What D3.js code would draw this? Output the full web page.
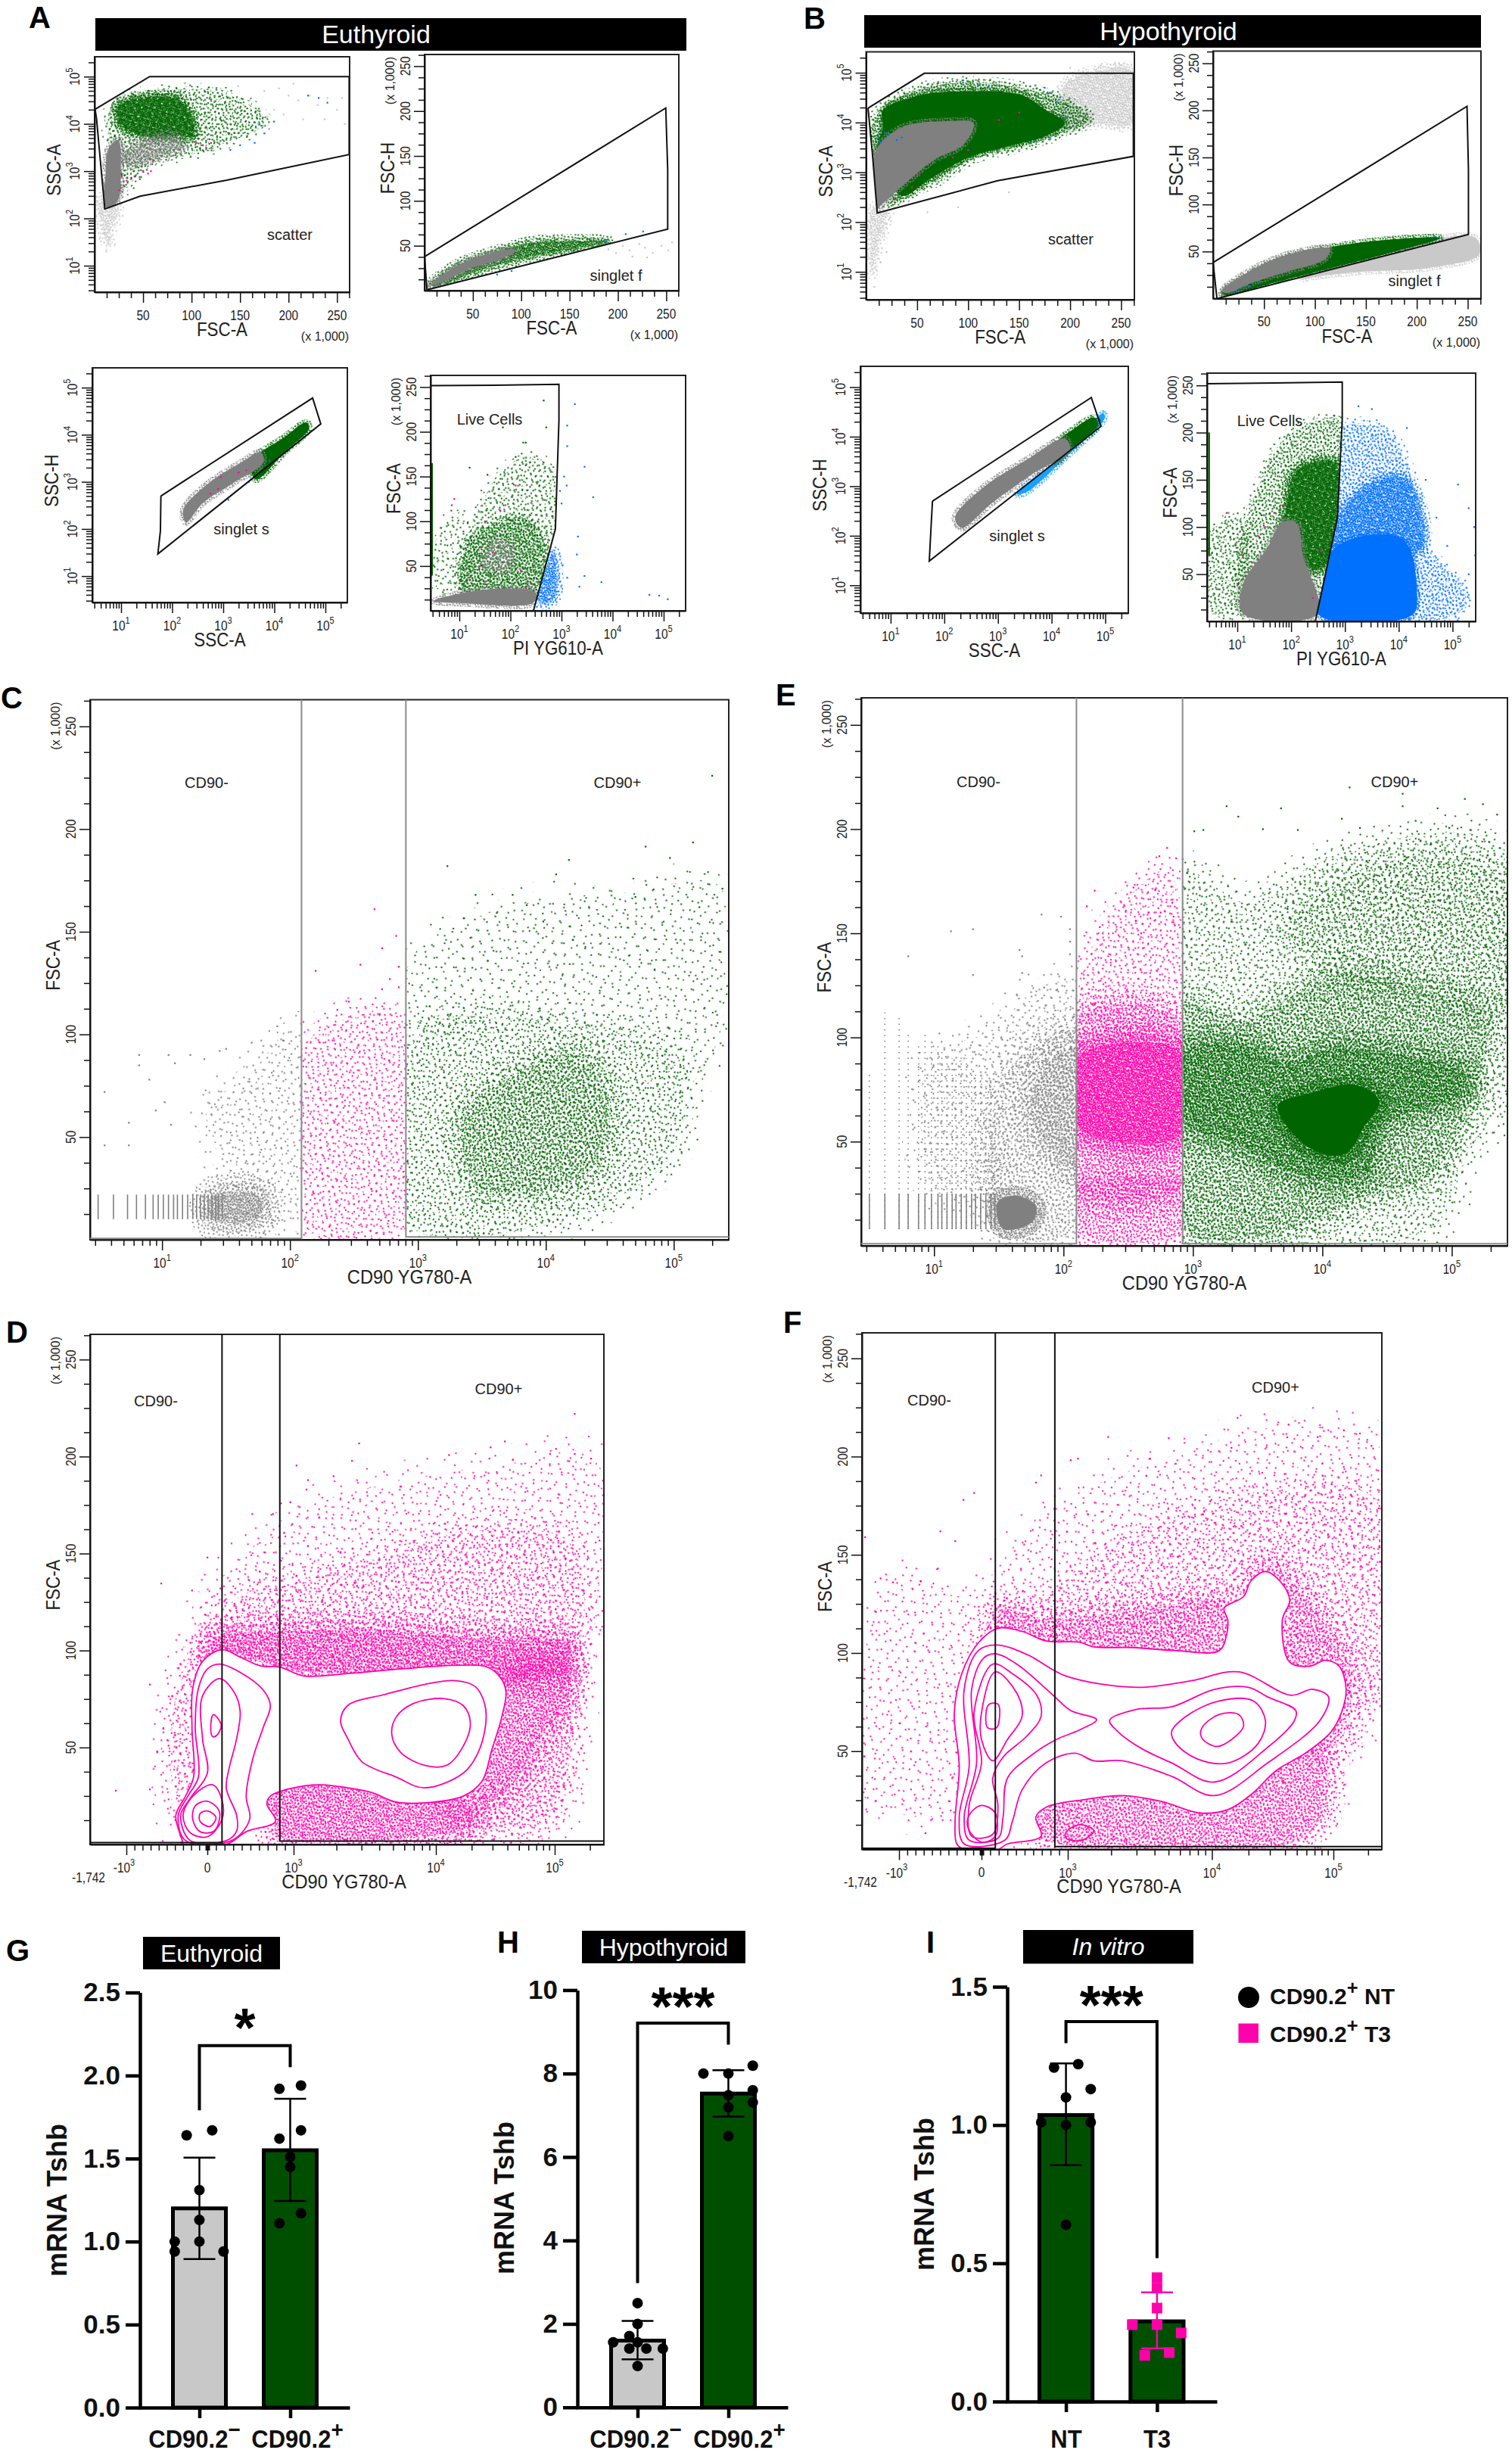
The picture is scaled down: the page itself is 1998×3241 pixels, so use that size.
<!DOCTYPE html>
<html>
<head>
<meta charset="utf-8">
<script src="https://cdn.jsdelivr.net/npm/d3@7"></script>
<style>
  body { margin: 0; background: #fff; }
  text { font-family: "Liberation Sans", Arial, sans-serif; }
</style>
</head>
<body>
<script>
// ---- flow panels: log axes hold log10 values, biexponential axes hold display decades
// (-1 = -10^3, 0 = 0, 1 = 10^3, 2 = 10^4, 3 = 10^5), linear axes hold thousands

// A scatter
const a1Gate = [[0.5,4.31],[56.8,5],[262.5,5],[262.5,3.35],[136.5,2.81],[46.8,2.47],[10.5,2.2],[6,3.21],[2,4.11],[0.5,4.31]];
const a1Cloud = [[14.4,4.2],[26.9,4.52],[71.7,4.7],[121.5,4.7],[161.4,4.38],[176.3,4.02],[141.4,3.66],[106.6,3.39],[61.8,3.21],[41.8,2.85],[26.9,2.58],[21.9,3.03]];
const a1Core = [[24.4,4.38],[51.8,4.56],[86.7,4.52],[99.1,4.2],[101.6,3.75],[81.7,3.75],[51.8,3.75],[26.9,3.98]];
const a1GreyColumn = [[11,2.85],[14.4,3.48],[24.4,3.66],[26.9,3.03],[24.4,2.4],[14.4,2.22],[9.5,2.31]];
const a1GreySpread = [[24.4,3.3],[51.8,3.66],[81.7,3.75],[91.6,3.53],[61.8,3.26],[36.9,3.12]];
const a1LightLow = [[5.5,2.4],[21.9,2.4],[24.4,2.13],[16.9,1.77],[14.4,1.46],[7,1.86]];
const a1LightDots = [[160,4.5],[175,4.7],[190,4.75],[205,4.85],[210,4.5],[222,4.6],[230,4.4],[240,4.55],[250,4.3],[258,4],[185,4.3],[195,4.2],[215,4.1],[200,4.6],[178,4.15],[237,4.1],[168,4],[255,4.55],[130,4.75],[148,4.8],[12,1.3],[15,1.55],[10,1.7]];
const a1BlueDots = [[175,3.8],[165,3.6],[220,4.6],[231,4.55],[240,4.45],[170,4],[185,4.05],[150,3.55],[140,3.45]];
const a1PinkDots = [[42,2.9],[50,3],[58,3],[30,2.7],[33,2.8],[110,3.55],[115,3.5],[105,3.6],[60,3.2],[25,2.6],[55,2.95],[120,3.6],[38,2.85],[28,2.9]];
// A singlet f
const a2Gate = [[0,37.8],[249.5,203.4],[251.5,134.8],[251.5,68.6],[2.5,0.9],[0,37.8]];
const a2Green = [[7.5,6.1],[35,28.4],[80,45],[110,53.5],[150,55.4],[190,54.5],[160,47.3],[110,37.9],[60,23.7],[10,4.7]];
const a2Grey = [[6,6.1],[35,28.4],[80,45],[95,45],[80,35.5],[50,26],[10,6.1]];
const a2LightDots = [[190,46],[198,42],[205,50],[212,45],[222,52],[228,48],[236,42],[245,50],[252,45],[256,54],[215,38],[230,37]];
const a2BlueDots = [[208,63],[226,66],[188,56],[90,22],[75,18]];
// A singlet s
const a3Gate = [[1.78,2.7],[4.75,4.78],[4.91,4.23],[1.72,1.47],[1.77,1.96],[1.78,2.7]];
const a3Green = [[3.54,3.41],[4.2,3.95],[4.63,4.26],[4.68,4.13],[4.2,3.63],[3.64,3.05]];
const a3Grey = [[2.22,2.41],[2.69,2.95],[3.35,3.41],[3.73,3.63],[3.78,3.41],[3.16,2.95],[2.6,2.55],[2.27,2.14]];
const a3PinkDots = [[2.75,2.75],[2.9,2.85],[3.3,3.2],[3.45,3.25],[2.95,3.1]];
const a3BlueDots = [[3.5,3],[3.68,3.15],[3.1,2.62],[3.75,3.3],[3.9,3.45]];
// A live cells
const a4Gate = [[0.43,251.5],[1.69,252],[2.95,253],[2.95,212.8],[2.88,91.3],[2.45,0]];
const a4Inside = [[0.4,251.5],[2.95,253],[2.95,212.8],[2.88,91.3],[2.45,0],[0.4,0]];
const a4Outside = [[2.95,253],[5.43,253],[5.43,0],[2.45,0],[2.88,91.3],[2.95,212.8]];
const a4Cloud = [[1.08,18],[1.12,70],[1.45,122],[1.83,155],[2.31,172],[2.78,160],[2.88,94],[2.59,37],[2.45,18]];
const a4Core = [[1.08,23],[1.22,79],[1.74,98],[2.31,103],[2.69,70],[2.5,25]];
const a4Left = [[0.46,65],[0.98,113],[1.08,27],[0.51,22]];
const a4GreyBottom = [[0.5,11],[1.08,20],[1.93,25],[2.5,20],[2.45,9],[1.08,8.5]];
const a4GreyMid = [[1.45,51],[1.74,79],[2.02,70],[1.93,46]];
const a4BlueEdge = [[2.5,13],[2.69,46],[2.83,65],[2.88,18],[2.73,9]];
const a4BlueDots = [[3.26,231],[3.11,207],[3.11,184],[3.45,161],[3.62,127],[3.32,83],[3.3,63],[3.45,39],[3.78,32],[4.72,18],[4.91,17],[5.08,13],[3.11,37],[2.97,134],[3.35,27],[3.02,51],[3.05,150],[3.1,140],[3,120]];
const a4PinkDots = [[1.4,50],[1.5,30],[1.8,112],[1.9,118],[1.65,65],[2.2,45],[2.4,30],[1.2,35],[0.85,118],[0.9,125],[2.1,140],[1.5,100],[2.3,25]];
const a4GreenDots = [[2.65,235],[1.85,205],[2.25,188],[2.3,188],[2.7,205],[2.1,172],[1.2,160],[1.55,152]];

// B scatter
const b1Gate = [[1.9,4.29],[57.1,4.99],[262,4.99],[262,3.32],[128.9,2.83],[10.9,2.18],[6.1,3.39],[1.9,4.29]];
const b1LightHigh = [[195,4.76],[223.3,5.02],[261,5.06],[261,3.99],[223,3.99],[195,3.9]];
const b1LightLow = [[6.1,2.27],[20.3,2.23],[17.9,1.93],[10.9,1.5],[6.1,0.98],[3.8,1.67]];
const b1Cloud = [[10.9,4.16],[53.4,4.67],[105.3,4.8],[157.2,4.67],[195,4.42],[218.6,4.07],[195,3.82],[157.2,3.56],[105.3,3.3],[72.2,2.87],[43.9,2.61],[25,2.36],[6.1,2.87]];
const b1Core = [[16.5,4.24],[53.4,4.55],[105.3,4.63],[152.5,4.55],[176.1,4.25],[195,3.99],[176.1,3.73],[138.3,3.52],[100.6,3.3],[62.8,2.87],[34.5,2.53],[10.9,3.47],[16.5,3.9]];
const b1Grey = [[8.5,3.39],[34.5,3.9],[81.7,4.03],[105.3,3.99],[95.8,3.56],[67.5,3.26],[39.2,2.79],[15.6,2.36],[10.9,2.27]];
const b1BlueDots = [[12,3.7],[18,3.8],[30,3.65],[35,3.7],[180,4.6],[190,4.5],[175,4.7],[110,4.75],[95,4.8],[180,3.7],[14,3.6],[22,3.75],[186,4.4],[195,4.1],[120,4.72],[165,3.62]];
const b1PinkDots = [[52,2.95],[45,2.7],[28,2.45],[85,3.3],[100,3.45],[130,4.05],[150,4.2]];
const b1LightDots = [[14,1.2],[20,1.4],[8,0.7],[60,2.2],[90,2.3],[140,2.6],[230,5.15],[200,5.1],[250,5.15]];
// B singlet f
const b2Gate = [[0,38.3],[249.3,204.3],[250.7,136.7],[250.7,68.1],[3.8,0],[0,38.3]];
const b2Light = [[119.5,46.5],[166.7,51],[251.7,66.8],[261,60],[261,46.5],[213.9,33],[143,28.4],[105.3,24],[86.4,21.7]];
const b2Green = [[8.5,5.9],[39.2,28.4],[72.2,44.2],[119.5,55.5],[166.7,62.2],[223.3,64.5],[166.7,46.5],[110,30.7],[53.4,14.9],[10.9,3.6]];
const b2Grey = [[8.5,8.1],[34.5,28.4],[72.2,46.5],[114.7,53.2],[110,42],[72.2,28.4],[39.2,17.1],[13.2,5.9]];
const b2BlueDots = [[30,12],[36,13],[45,17],[20,7],[25,9],[215,65],[222,66]];
// B singlet s
const b3Gate = [[1.78,2.7],[4.74,4.79],[4.92,4.21],[1.72,1.49],[1.75,2.11],[1.78,2.7]];
const b3Blue = [[3.35,2.84],[4.07,3.48],[4.96,4.47],[4.99,4.38],[4.25,3.57],[3.53,2.88]];
const b3Green = [[3.98,3.74],[4.43,4.17],[4.78,4.38],[4.87,4.25],[4.34,3.74],[4.07,3.48]];
const b3Grey = [[2.2,2.37],[2.72,2.97],[3.53,3.53],[4.25,3.96],[4.34,3.74],[3.62,3.23],[2.9,2.67],[2.32,2.16]];
// B live cells
const b4Gate = [[0.43,251.7],[1.69,252.6],[2.95,253.5],[2.95,213.3],[2.86,109.6],[2.45,0]];
const b4Inside = [[0.4,251.7],[2.95,253.5],[2.95,213.3],[2.86,109.6],[2.45,0],[0.4,0]];
const b4Outside = [[2.95,253.5],[5.43,253.5],[5.43,0],[2.45,0],[2.86,109.6],[2.95,213.3]];
const b4BlueCloud = [[2.9,204],[3.71,204],[4.16,164],[4.52,78],[5.23,33],[5.14,10],[2.5,7],[2.86,110]];
const b4BlueMid = [[2.86,110],[3.62,150],[4.16,150],[4.43,78],[2.81,78]];
const b4BlueCore = [[2.5,8],[2.81,78],[4.07,87],[4.34,28.4],[4.25,6.8]];
const b4GreenCloud = [[1.11,15],[1.06,78],[1.38,141],[1.91,195],[2.81,216],[2.92,209],[2.86,110],[2.5,15]];
const b4GreenCore = [[1.83,78],[1.91,119],[2.09,159],[2.81,168],[2.86,110],[2.54,55]];
const b4Left = [[0.48,92],[1.02,110],[1.11,10],[0.48,10]];
const b4Grey = [[1.11,8],[1.11,40],[1.56,78],[1.83,105],[2.1,104],[2.22,70],[2.5,8]];
const b4BlueDots = [[3.5,225],[3.25,228],[4.15,205],[5.1,145],[5.3,120],[5.4,100],[5.42,70],[4.5,150],[4.7,110],[4.9,80],[5.3,50]];
const b4PinkDots = [[1.4,90],[1.5,100],[1.7,115],[1.85,122],[1.1,70],[1,40],[0.8,115],[2.4,25],[2.55,75]];

// C gates and populations
const cCuts = [2.09, 2.906];
const cStripes = [0.5,0.62,0.73,0.8,0.87,0.93,0.97,1.01,1.05,1.09,1.12,1.16,1.2,1.24,1.27,1.3,1.33,1.36,1.39,1.42,1.44,1.47];
const cGreyBlob = [[1.39,21],[1.76,21],[1.76,11],[1.39,10]];
const cGreyCloud = [[1.61,23],[1.35,62],[1.69,81],[2.03,102],[2.09,11],[1.76,9]];
const cPink = [[2.1,7],[2.1,92],[2.37,106],[2.86,108],[2.91,7]];
const cGreenSparse = [[2.91,106],[2.97,139],[3.65,161],[4.63,169],[5.34,173],[5.4,141],[5.34,96],[5.08,74],[5,92],[4.44,102],[3.69,108]];
const cGreenMid = [[2.93,7],[2.91,86],[3.12,106],[3.69,108],[4.44,102],[5,92],[5.08,74],[5,43],[4.63,23],[3.99,7]];
const cGreenCore = [[3.5,23],[3.35,58.5],[3.8,82],[4.25,90],[4.48,72],[4.4,37],[4.06,25],[3.72,23]];
const cGreenDots = [[5.3,226],[5.15,193.5],[4.78,191.5],[4.97,186],[4.18,185],[4.08,178],[3.23,182],[3.45,168],[3.74,168],[5.38,171],[5.2,162],[3.85,163],[3.98,155],[4.7,167]];
const cGreyDots = [[0.82,90],[0.82,85],[1.05,90],[1.1,86],[1.22,90],[1.33,88],[0.55,72],[0.9,78],[1.02,67],[0.95,63],[1.07,56],[0.74,57],[0.74,46],[0.55,46],[1.7,96],[1.9,104],[1.95,97],[1.5,93],[1.45,92]];
const cPinkDots = [[2.66,161],[2.83,148],[2.72,142],[2.55,134],[2.85,133],[2.2,131],[2.78,127],[2.72,122],[2.85,123],[2.46,116],[2.37,112],[2.7,110]];
// E populations
const eCuts = [2.1, 2.92];
const eStripes = [0.5,0.62,0.73,0.8,0.88,0.93,0.98,1.03,1.06,1.1,1.14,1.17,1.21,1.25,1.29,1.32,1.36,1.4,1.44,1.47];
const eStripeTops = [83,112,110,102,97,102,97,96,94,92,90,88,92,90,86,84,82,80,78,76];
const eGreyBlob = [[1.49,21],[1.64,24],[1.79,19],[1.75,11],[1.53,8.3]];
const eGreySparse = [[1.03,25],[0.97,91],[1.42,102.5],[1.83,124],[2.09,126],[2.11,104],[1.49,73],[1.49,25]];
const eGreyMid = [[1.49,73],[1.64,89],[2.11,104],[2.11,8],[1.49,8]];
const eGreyDense = [[1.83,83],[2.11,95],[2.11,36.5],[1.87,48],[1.75,66]];
const ePinkSparse = [[2.13,110],[2.13,126],[2.31,153],[2.79,180],[2.91,163],[2.91,108]];
const ePinkLow = [[2.11,27],[2.91,29],[2.91,6.4],[2.11,6.4]];
const ePinkMid = [[2.11,110],[2.91,108],[2.91,29],[2.11,27]];
const ePinkCore = [[2.11,91],[2.91,93],[2.91,54],[2.5,49],[2.11,58]];
const eGreenSparse = [[2.93,180],[3.36,165],[3.54,168.5],[4.22,190],[5.37,192],[5.43,73.4],[5.11,44],[4.85,9],[2.93,7.4]];
const eGreenUpper = [[3.73,153],[4.48,184],[5.41,176],[5.43,112],[4.85,122],[4.1,130]];
const eGreenMid = [[2.93,116],[3.36,108],[4.1,130],[4.85,122],[5.26,112],[5.22,83],[5.11,64],[4.85,35],[4.22,21],[3.73,7.4],[2.93,7.4]];
const eGreenDense = [[2.93,93],[3.36,97],[3.73,89],[4.1,95],[4.48,93],[5.11,83],[5.11,73.4],[4.48,58],[4.33,34.6],[3.92,32.6],[3.36,48],[2.93,60]];
const eGreenCore = [[3.66,67.6],[3.92,73.4],[4.25,77.3],[4.44,69.5],[4.33,57.9],[4.18,44.3],[3.99,44.3],[3.77,54]];
const eGreenDots = [[4.21,220],[4.62,217],[4.62,211],[5.1,214.5],[5.24,212],[5.35,207],[4.72,204],[4.15,205],[3.68,210],[3.26,211],[3.35,206],[3.01,199],[3.08,199.6],[3.54,200],[3.81,199.6],[4.29,200.6],[4.89,210],[4.98,200.6]];
const eGreyDots = [[1.83,159],[1.98,158],[1.13,151],[1.3,152],[0.8,139],[1.66,142],[1.68,139],[1.68,131],[1.3,130],[2.05,152],[2.05,146],[2.05,140],[1.85,124],[1.95,123]];
const ePinkDots = [[2.8,191],[2.74,187],[2.87,186],[2.24,170.5],[2.54,172],[2.71,171],[2.84,164.7],[2.56,156],[2.18,163],[2.28,153],[2.6,150],[2.75,160],[2.85,158]];

// D contours
const dCuts = [0.17, 0.84];
const dOuter = [[-0.31,2],[-0.39,14.9],[-0.27,24.9],[-0.17,34.8],[-0.19,60.6],[-0.18,80.5],[-0.06,94.4],[0.17,100.4],[0.39,96.4],[0.62,92],[0.84,91.5],[1.07,86.9],[1.38,88.1],[1.75,90.5],[2.19,92.4],[2.43,91.5],[2.55,85.5],[2.59,78.5],[2.55,64.6],[2.47,48.7],[2.39,32.8],[2.23,24.9],[1.99,21.9],[1.72,21.9],[1.55,26.8],[1.45,28.4],[1.18,30.8],[0.96,28.8],[0.73,24.9],[0.69,20.9],[0.79,11.9],[0.45,6.6],[0.22,0],[-0.3,0]];
const dLobe2 = [[-0.11,80.5],[0,90.5],[0.14,93],[0.39,88.5],[0.65,79.5],[0.73,71.6],[0.65,60.6],[0.53,44.7],[0.45,24.9],[0.49,12.9],[0.28,2],[-0.27,2],[-0.36,14.9],[-0.24,24.9],[-0.11,34.8],[-0.15,60.6]];
const dLobe3 = [[-0.06,76.5],[0.14,85.5],[0.31,78.5],[0.38,68.6],[0.34,54.7],[0.25,38.8],[0.22,28.8],[0.34,14.9],[0.34,7],[0.22,2],[-0.21,2],[-0.33,14.9],[-0.21,23.9],[0,36.8],[-0.06,54.7]];
const dDrop = [[0.07,67],[0.16,61.6],[0.11,56.3],[0.06,55.7],[0.04,61.6]];
const dLow1 = [[0.06,30.8],[0.17,22.9],[0.17,12.9],[0,4],[-0.21,6],[-0.3,14.9],[-0.18,24.9]];
const dLow2 = [[0,22.3],[0.14,16.9],[0.08,7],[-0.09,6.6],[-0.18,12.9],[-0.15,19.9]];
const dLow3 = [[0,17.3],[0.1,13.9],[0.03,9.3],[-0.09,11.9],[-0.09,15.9]];
const dRight1 = [[1.38,71.6],[1.65,77.5],[1.92,82.5],[2.15,84.5],[2.33,81.5],[2.41,72.6],[2.42,62.6],[2.35,46.7],[2.23,36.8],[1.92,29.2],[1.72,34.8],[1.48,42.7],[1.38,54.7],[1.33,63.6]];
const dRight2 = [[1.84,72.6],[2.07,75.2],[2.23,71.6],[2.29,62.6],[2.23,50.7],[2.09,40.8],[1.92,40.8],[1.75,47.7],[1.69,56.7],[1.72,65.6]];
// D density regions
const dSparse = [[-0.45,40.8],[-0.42,70.6],[-0.18,100.4],[0,128],[0.51,152],[0.96,170],[1.65,186],[2.59,196],[3.33,200],[3.33,108],[3.11,40.8],[3.03,7],[0.79,6],[0.69,20.9],[-0.3,1]];
const dMid = [[0,106],[0.39,128],[1.04,136],[1.65,150],[2.39,162],[3.12,156],[3.18,100],[2.59,85.5],[2.19,92],[1.38,88],[0.84,91.5]];
const dTopBand = [[0,97.4],[0.08,106],[0.96,110],[1.65,110],[2.39,106],[3.11,104],[3.11,90],[2.59,85.5],[2.19,92],[1.38,88],[0.84,91.5],[0.17,100]];
const dRightBand = [[2.59,88],[3.11,94],[3.11,74.5],[2.95,60.6],[2.88,54.7],[2.64,30.8],[2.39,20.9],[2.39,32.8],[2.55,64.6]];
const dRightLow = [[2.39,20.9],[2.64,30.8],[2.95,60.6],[3.11,80],[3.09,30.8],[2.88,12.9],[2.5,8],[2.2,8],[2.1,20]];
const dBottomBand = [[0.69,20.9],[0.79,27.8],[1.14,30.8],[1.45,28.4],[1.72,21.9],[2.23,22.9],[2.31,12.9],[2.19,7],[0.79,5],[0.79,11.9]];
const dLeftBand = [[-0.38,25],[-0.42,70],[-0.2,98],[0.1,104],[0.2,100],[-0.19,60.6],[-0.17,34.8]];
const dDots = [[3.17,222],[3.31,199],[2.96,201.4],[3.01,204],[3.17,201.4],[2.58,207.8],[2.46,204.8],[2.45,199],[2.11,200.8],[1.46,206.8],[1.41,197.8],[1.02,195.4],[1.28,189.9],[1.1,187.9],[1.09,183],[0,148],[-0.57,134.6],[-0.19,131],[-0.71,82.5],[-1.07,27.8],[-0.71,28.4],[-0.62,48],[-0.48,51],[0.52,170.4],[0.76,170.4],[0.96,176.5]];

// F contours
const fCuts = [0.16, 0.85];
const fOuter = [[-0.3,2.8],[-0.32,14.6],[-0.27,42.1],[-0.33,69.7],[-0.24,89.4],[-0.04,105.1],[0.19,112.6],[0.47,111],[0.75,106.1],[1.08,105.5],[1.18,103.1],[1.45,102.8],[1.75,101.2],[2.06,101.2],[2.12,109.1],[2.13,116.9],[2.1,122.8],[2.26,128.7],[2.32,136.6],[2.44,141.5],[2.56,136.6],[2.64,126.8],[2.58,116.9],[2.64,95.3],[2.81,93.3],[2.93,96.3],[3.05,93.3],[3.11,81.5],[3.07,69.7],[2.98,59.8],[2.77,49],[2.53,40.2],[2.33,28.3],[2.14,20.5],[1.92,18.5],[1.65,24.4],[1.38,27.4],[1.12,25.4],[0.75,21.5],[0.63,16.5],[0.69,6.7],[0.3,2.8],[0.19,0],[-0.21,0]];
const fRing2 = [[-0.21,81.5],[-0.04,101.2],[0.17,104.1],[0.53,99.2],[0.97,88.4],[1.48,82.5],[1.85,85.8],[2.22,90.4],[2.65,78.5],[2.83,81.5],[2.96,77.6],[2.89,65.7],[2.46,44.1],[2.02,27.4],[1.72,37.2],[1.38,45.1],[1.18,45.1],[1.05,49],[0.75,44.1],[0.47,30.3],[0.36,14.6],[0.27,4.7],[-0.21,2.8],[-0.27,16.5],[-0.15,42.1]];
const fRing3 = [[-0.12,81.5],[0.02,97.2],[0.16,99.6],[0.41,94.3],[0.83,78.5],[1.02,70.7],[1.2,66.1],[1.08,60.8],[0.86,55.8],[0.58,48],[0.3,36.2],[0.25,16.5],[0.19,5.7],[-0.15,4.7],[-0.21,16.5],[-0.06,44]];
const fRing3Right = [[1.29,65.7],[1.48,71.3],[1.72,72.6],[2.02,81.5],[2.3,82.5],[2.46,77.6],[2.69,70.7],[2.68,65.7],[2.46,52],[2.02,34.3],[1.72,44.1],[1.52,51],[1.35,59.8]];
const fRing4 = [[-0.09,69.7],[0.13,94.3],[0.36,89.4],[0.64,78.5],[0.69,67.7],[0.53,57.9],[0.25,47],[0.13,36.2],[0.19,22.4],[0.13,7.7],[-0.12,6.7],[-0.15,22.4],[0,44.1]];
const fRing4Right = [[1.72,59.8],[1.82,67.7],[2.06,75.6],[2.34,75.6],[2.44,65.7],[2.38,53.9],[2.14,44.1],[1.9,46],[1.75,53.9]];
const fRing5 = [[0,69.7],[0.16,90.4],[0.41,79.5],[0.47,67.7],[0.3,55.9],[0.13,45.1],[0,55.9]];
const fRing5Right = [[1.93,61.8],[2.06,68.7],[2.22,68.7],[2.26,62.8],[2.16,55.9],[2.04,52.4],[1.93,56.7]];
const fDrop = [[0.08,73.6],[0.19,74],[0.21,67.7],[0.17,61.8],[0.07,62]];
const fLow = [[0,22.4],[0.16,18.5],[0.16,6.7],[0,3.7],[-0.16,10.6],[-0.15,17.5]];
const fSmall = [[0.98,8.7],[1.08,12.6],[1.18,9.6],[1.1,4.7],[0.98,5.7]];
// F density regions
const fSparse = [[-1.22,26],[-1.22,101],[-0.97,140.5],[-0.21,129],[0.75,172],[1.62,197.6],[2.62,215],[3.39,205.5],[3.39,75.6],[3.13,42],[2.73,6.7],[0.69,5.7],[-0.27,14.6]];
const fMid = [[0,105],[0.19,120.9],[0.75,128.7],[1.38,156.3],[2.22,180],[3.37,178],[3.39,75.6],[3.1,80],[2.6,100],[2.3,130],[1.75,101],[0.75,106]];
const fTopBand = [[0.19,112],[0.22,122],[0.8,117],[1.5,122],[2.15,125],[2.13,100],[1.2,102],[0.6,106]];
const fRightBand = [[2.3,135],[2.5,145],[2.75,130],[3.05,105],[3.15,90],[3.1,60],[2.9,50],[2.6,90],[2.62,125]];
const fBottomBand = [[0.63,16],[0.75,22],[1.38,27],[1.9,18.5],[2.14,20.5],[2.5,40],[2.85,52],[2.95,30],[2.75,6],[0.7,6]];
const fDots = [[2.21,219.7],[2.63,216.3],[3.09,213.4],[3.23,211.8],[2.62,209.8],[1.7,209.4],[1.28,210],[3.33,205.5],[2.87,210],[2.16,204.5],[1.02,198.2],[1.07,199],[1.57,199],[-0.09,181.5],[-0.22,178],[-0.5,162],[-0.32,157],[-0.53,143],[-1.22,159],[-1.12,138],[-1.04,136],[0.69,190.4],[0.63,186.8],[-0.74,136.6],[-1.15,121],[-0.68,8.3]];

// ---- bar panels
const gCategories = ['CD90.2-', 'CD90.2+'];
const gMeans = [1.2, 1.55];
const gUpper = [1.505, 1.86];
const gLower = [0.895, 1.245];
const gNegValues = [1.64, 1.67, 1.31, 1.13, 1, 1, 0.94, 0.94];
const gNegSlots = [-0.45, 0.45, 0, 0, -0.87, 0, -0.87, 0.85];
const gPosValues = [1.92, 1.94, 1.62, 1.67, 1.51, 1.45, 1.17, 1.11];
const gPosSlots = [-0.38, 0.38, -0.38, 0.38, 0, 0, 0.38, -0.38];
const gTicks = [0, 0.5, 1, 1.5, 2, 2.5];
const gBracket = [1.79, 2.18, 2.05];

const hCategories = ['CD90.2-', 'CD90.2+'];
const hMeans = [1.6, 7.52];
const hUpper = [2.07, 8.08];
const hLower = [1.15, 6.97];
const hNegValues = [2.5, 2, 1.71, 1.56, 1.56, 1.41, 1.41, 1.41, 0.99];
const hNegSlots = [0, 0, -0.29, -0.86, 0, -0.29, 0.31, 0.89, 0];
const hPosValues = [8, 8, 8.19, 7.48, 7.6, 7.31, 7.19, 6.5];
const hPosSlots = [-0.88, 0, 0.86, 0, 0.86, 0.86, 0, 0];
const hTicks = [0, 2, 4, 6, 8, 10];
const hBracket = [2.98, 9.21, 8.69];

const iCategories = ['NT', 'T3'];
const iMeans = [1.036, 0.29];
const iUpper = [1.223, 0.395];
const iLower = [0.855, 0.192];
const iNtValues = [1.208, 1.22, 1.13, 1.1, 1.01, 1, 1.01, 0.639];
const iNtSlots = [-0.42, 0.43, 0.87, 0, -0.87, 0, 0.87, 0];
const iT3Values = [0.448, 0.41, 0.338, 0.278, 0.278, 0.248, 0.177, 0.167];
const iT3Slots = [0, 0, 0, -0.87, 0, 0.85, 0.43, -0.43];
const iTicks = [0, 0.5, 1, 1.5];
const iBracket = [1.296, 1.374, 0.519];

const GREEN = '#006400', GREY = '#808080', LIGHT = '#c9c9c9', PINK = '#ff00aa', BLUE = '#0070ff', BARGREEN = '#004f00', BARGREY = '#c8c8c8';

const W = 1998, H = 3241;
const svg = d3.select('body').append('svg').attr('width', W).attr('height', H);
const defs = svg.append('defs');

function txt(parent, x, y, str, o = {}) {
  const t = parent.append('text')
    .attr('transform', `translate(${x},${y}) rotate(${o.rot || 0}) scale(${o.sx || 1},1)`)
    .attr('text-anchor', o.anchor || 'middle')
    .attr('font-size', o.size || 18)
    .attr('fill', o.fill || '#222');
  if (!o.alpha) t.attr('dominant-baseline', 'central');
  if (o.weight) t.attr('font-weight', o.weight);
  if (o.italic) t.attr('font-style', 'italic');
  if (o.sup) {
    t.append('tspan').text(str);
    t.append('tspan').text(o.sup).attr('font-size', (o.size || 18) * (o.supScale || 0.72)).attr('dy', -(o.size || 18) * 0.42);
    if (o.tail) t.append('tspan').text(o.tail).attr('dy', (o.size || 18) * 0.42);
  } else {
    t.text(str);
  }
  return t;
}

// texture of the dense populations: one tile of small dots, tile size sets the density.
// two tiles of slightly different size and angle are laid over each other to hide the repeat
const tileDots = [[.03,.17],[.27,.02],[.62,.13],[.81,.24],[.19,.41],[.47,.33],[.66,.52],[.93,.47],[.09,.72],[.37,.61],[.55,.84],[.86,.69],[.28,.93],[.72,.97],[.97,.88],[.41,.12]];
function stipple(color, size, angle) {
  const id = `st-${color.slice(1)}-${Math.round(size * 10)}-${angle < 0 ? 'n' : 'p'}`;
  if (defs.select('#' + id).empty()) {
    const p = defs.append('pattern').attr('id', id).attr('patternUnits', 'userSpaceOnUse')
      .attr('width', size).attr('height', size).attr('patternTransform', `rotate(${angle})`);
    p.selectAll('rect').data(tileDots).join('rect')
      .attr('x', d => d[0] * size).attr('y', d => d[1] * size)
      .attr('width', 2).attr('height', 2).attr('fill', color);
  }
  return `url(#${id})`;
}

const linMajor = [50, 100, 150, 200, 250];
const linTicks = d3.range(12.5, 263, 12.5);
const logTicks = d3.range(0, 6).flatMap(e => d3.range(1, 10).map(k => k * 10 ** e)).filter(v => v > 10 ** 0.44 && v < 10 ** 5.42);
const biexTicks = [...d3.range(-9, 10).map(v => v / 10), -0.02, -0.01, 0.01, 0.02, ...d3.range(2, 10).map(k => 1 + Math.log10(k)), ...d3.range(2, 10).map(k => 2 + Math.log10(k)), 3, 3 + Math.log10(2), 1, 2, -1];
const biexDomain = [-1.24, -1, 0, 1, 2, 3, 3.42];
let plotCount = 0;

function flowPlot(box, xKind, yKind, anchors, xTitle, yTitle) {
  const g = svg.append('g');
  const id = 'clip' + (plotCount++);
  g.append('clipPath').attr('id', id).append('rect')
    .attr('x', box[0]).attr('y', box[1]).attr('width', box[2] - box[0]).attr('height', box[3] - box[1]);
  const x = xKind === 'lin' ? d3.scaleLinear([0, 263], [box[0], box[2]])
    : xKind === 'log' ? d3.scaleLog([10 ** 0.437, 10 ** 5.43], [box[0], box[2]])
    : d3.scaleLinear(biexDomain, anchors);
  const y = yKind === 'lin' ? d3.scaleLinear([0, 263], [box[3], box[1]])
    : d3.scaleLog([10 ** 0.44, 10 ** 5.42], [box[3], box[1]]);
  const px = xKind === 'log' ? d => x(10 ** d) : d => x(d);
  const py = yKind === 'log' ? d => y(10 ** d) : d => y(d);
  const root = g.append('g').attr('clip-path', `url(#${id})`);
  let marks = root;
  const poly = d3.line().x(d => px(d[0])).y(d => py(d[1]));
  const smooth = d3.line().x(d => px(d[0])).y(d => py(d[1])).curve(d3.curveCatmullRomClosed.alpha(0.5));
  // big panels get a wider fade around each region
  const fade = box[2] - box[0] > 500 ? 26 : 9;

  const p = {
    g, x, y, px, py, box,
    // later marks stay inside this polygon, null goes back to the whole plot
    within(pts) {
      if (!pts) { marks = root; return p; }
      const cid = 'clip' + (plotCount++);
      g.append('clipPath').attr('id', cid).append('path').attr('d', poly(pts) + 'Z');
      marks = root.append('g').attr('clip-path', `url(#${cid})`);
      return p;
    },
    fill(pts, color, size) {
      const d = smooth(pts);
      // fade only outside the region, so its inside stays one density
      const mid = 'fade' + (plotCount++);
      const mask = defs.append('mask').attr('id', mid).attr('maskUnits', 'userSpaceOnUse')
        .attr('x', 0).attr('y', 0).attr('width', W).attr('height', H);
      mask.append('rect').attr('width', W).attr('height', H).attr('fill', '#fff');
      mask.append('path').attr('d', d).attr('fill', '#000');
      const halo = marks.append('g').attr('mask', `url(#${mid})`);
      halo.append('path').attr('d', d).attr('fill', 'none').attr('stroke', stipple(color, size * 2.4, 23)).attr('stroke-width', fade * 2);
      halo.append('path').attr('d', d).attr('fill', 'none').attr('stroke', stipple(color, size * 1.9, -37)).attr('stroke-width', fade);
      marks.append('path').attr('d', d).attr('fill', stipple(color, size * 1.41, 17));
      marks.append('path').attr('d', d).attr('fill', stipple(color, size * 1.43, -29));
      return p;
    },
    solid(pts, color) {
      const d = smooth(pts);
      marks.append('path').attr('d', d).attr('fill', 'none').attr('stroke', stipple(color, 12, 23)).attr('stroke-width', fade);
      marks.append('path').attr('d', d).attr('fill', color);
      return p;
    },
    dots(pts, color) {
      marks.append('g').selectAll('rect').data(pts).join('rect')
        .attr('x', d => px(d[0]) - 1).attr('y', d => py(d[1]) - 1).attr('width', 2.2).attr('height', 2.2).attr('fill', color);
      return p;
    },
    stripes(vals, lo, hi, color, dash) {
      marks.append('g').selectAll('line').data(vals).join('line')
        .attr('x1', d => px(d)).attr('x2', d => px(d)).attr('y1', py(lo)).attr('y2', (d, i) => py(hi[i]))
        .attr('stroke', color).attr('stroke-width', 1.6).attr('stroke-dasharray', dash || null);
      return p;
    },
    gate(pts, color) {
      g.append('path').attr('d', poly(pts)).attr('fill', 'none').attr('stroke', color || '#111').attr('stroke-width', 2);
      return p;
    },
    contour(pts, filled) {
      marks.append('path').attr('d', smooth(pts)).attr('fill', filled ? '#fff' : 'none').attr('stroke', PINK).attr('stroke-width', 1.8);
      return p;
    },
    finish() {
      g.append('rect').attr('x', box[0]).attr('y', box[1]).attr('width', box[2] - box[0]).attr('height', box[3] - box[1])
        .attr('fill', 'none').attr('stroke', '#222').attr('stroke-width', 2);
      const xVals = xKind === 'lin' ? linTicks : xKind === 'log' ? logTicks : biexTicks;
      const yVals = yKind === 'lin' ? linTicks : logTicks;
      const isMajX = d => xKind === 'lin' ? linMajor.includes(d) : xKind === 'log' ? Number.isInteger(Math.log10(d)) : [-1, 0, 1, 2, 3].includes(d);
      const isMajY = d => yKind === 'lin' ? linMajor.includes(d) : Number.isInteger(Math.log10(d));
      const ax = g.append('g').attr('transform', `translate(0,${box[3]})`)
        .call(d3.axisBottom(x).tickValues(xVals).tickFormat('').tickSizeOuter(0));
      ax.selectAll('.tick line').attr('y2', d => isMajX(d) ? 14 : 8).attr('stroke', '#111').attr('stroke-width', 1.5);
      ax.select('.domain').attr('stroke', '#111').attr('stroke-width', 2);
      const ay = g.append('g').attr('transform', `translate(${box[0]},0)`)
        .call(d3.axisLeft(y).tickValues(yVals).tickFormat('').tickSizeOuter(0));
      ay.selectAll('.tick line').attr('x2', d => isMajY(d) ? -14 : -8).attr('stroke', '#111').attr('stroke-width', 1.5);
      ay.select('.domain').attr('stroke', '#111').attr('stroke-width', 2);

      const lab = { size: 18, sx: 0.86 };
      const yl = box[3] + 31;
      if (xKind === 'lin') {
        linMajor.forEach(v => txt(g, x(v), yl, v, lab));
        txt(g, box[2] - 1, box[3] + 58, '(x 1,000)', { size: 16, anchor: 'end' });
      } else if (xKind === 'log') {
        [1, 2, 3, 4, 5].forEach(e => txt(g, x(10 ** e), yl, '10', { ...lab, sup: e }));
      } else {
        txt(g, x(-1) - 3, yl, '-10', { ...lab, sup: 3 });
        txt(g, x(0), yl, '0', lab);
        [1, 2, 3].forEach(e => txt(g, x(e), yl, '10', { ...lab, sup: e + 2 }));
        txt(g, box[0] - 2, box[3] + 44, '-1,742', lab);
      }
      const small = xKind === 'lin' || box[2] - box[0] < 400;
      txt(g, (box[0] + box[2]) / 2 + (xKind === 'biex' ? -4 : 0), box[3] + 49, xTitle, { size: small ? 26 : 25, sx: small ? 0.86 : 0.95 });
      const xl = box[0] - 25;
      const ylab = { size: 18, sx: 0.86, rot: -90 };
      if (yKind === 'lin') {
        linMajor.forEach(v => txt(g, xl, y(v), v, ylab));
        txt(g, box[0] - 46, box[1] + 3, '(x 1,000)', { size: 16, rot: -90, anchor: 'end' });
      } else {
        [1, 2, 3, 4, 5].forEach(e => txt(g, xl - 1, y(10 ** e), '10', { ...ylab, sup: e }));
      }
      txt(g, box[0] - (yKind === 'log' ? 54 : 49), (box[1] + box[3]) / 2 - 6, yTitle, { size: 26, sx: 0.86, rot: -90 });
      return p;
    }
  };
  return p;
}

// two gate rectangles side by side: CD90- ends at the first line, CD90+ starts at the second
function gateLines(p, cuts, color, lowA, lowB) {
  const right = p.box[2], left = p.box[0], top = p.box[1];
  const a = p.px(cuts[0]), b = p.px(cuts[1]);
  p.g.append('path').attr('d', `M${left},${p.py(lowA)}H${a}V${top}`).attr('fill', 'none').attr('stroke', color).attr('stroke-width', 2);
  p.g.append('path').attr('d', `M${b},${top}V${p.py(lowB)}H${right}`).attr('fill', 'none').attr('stroke', color).attr('stroke-width', 2);
}
// vertical slice of a plot, used to stop a population at its gate line
const slice = (lo, hi) => [[lo, 0], [lo, 263], [hi, 263], [hi, 0]];
const panelLetter = (x, y, s) => txt(svg, x, y, s, { size: 40, weight: 'bold', anchor: 'start', alpha: 1, fill: '#000' });

// ---- A
panelLetter(38, 37, 'A');
svg.append('rect').attr('x', 126).attr('y', 24).attr('width', 781).attr('height', 43).attr('fill', '#000');
txt(svg, 497, 45, 'Euthyroid', { size: 34, fill: '#fff' });

flowPlot([125, 75, 462, 386], 'lin', 'log', null, 'FSC-A', 'SSC-A')
  .fill(a1LightLow, LIGHT, 9)
  .within(a1Gate).fill(a1Cloud, GREEN, 15).fill(a1Core, GREEN, 6)
  .solid(a1GreyColumn, GREY).fill(a1GreySpread, GREY, 9).within(null)
  .dots(a1LightDots, LIGHT).dots(a1BlueDots, BLUE).dots(a1PinkDots, PINK)
  .gate(a1Gate).finish();
txt(svg, 383, 310, 'scatter', { size: 20 });

flowPlot([561, 72, 897, 384], 'lin', 'lin', null, 'FSC-A', 'FSC-H')
  .within(a2Gate).fill(a2Green, GREEN, 7).solid(a2Grey, GREY).within(null)
  .dots(a2LightDots, LIGHT).dots(a2BlueDots, BLUE)
  .gate(a2Gate).finish();
txt(svg, 814, 364, 'singlet f', { size: 20 });

flowPlot([122, 486, 459, 796], 'log', 'log', null, 'SSC-A', 'SSC-H')
  .solid(a3Green, GREEN).solid(a3Grey, GREY)
  .dots(a3PinkDots, PINK).dots(a3BlueDots, BLUE)
  .gate(a3Gate).finish();
txt(svg, 319, 699, 'singlet s', { size: 20 });

flowPlot([569, 496, 906, 807], 'log', 'lin', null, 'PI YG610-A', 'FSC-A')
  .within(a4Outside).fill(a4BlueEdge, BLUE, 8)
  .within(a4Inside).fill(a4Left, GREEN, 24)
  .stripes([0.46, 0.47], 40, [165, 165], GREEN)
  .fill(a4Cloud, GREEN, 19).fill(a4Core, GREEN, 11)
  .fill(a4GreyMid, GREY, 11).solid(a4GreyBottom, GREY).within(null)
  .dots(a4BlueDots, BLUE).dots(a4PinkDots, PINK).dots(a4GreenDots, GREEN)
  .gate(a4Gate).finish();
txt(svg, 647, 554, 'Live Cells', { size: 20 });

// ---- B
panelLetter(1062, 38, 'B');
svg.append('rect').attr('x', 1142).attr('y', 20).attr('width', 815).attr('height', 43).attr('fill', '#000');
txt(svg, 1544, 41, 'Hypothyroid', { size: 34, fill: '#fff' });

flowPlot([1144.5, 68.5, 1499, 396], 'lin', 'log', null, 'FSC-A', 'SSC-A')
  .fill(b1LightHigh, LIGHT, 8).fill(b1LightLow, LIGHT, 9)
  .within(b1Gate).fill(b1Cloud, GREEN, 10).solid(b1Core, GREEN).solid(b1Grey, GREY).within(null)
  .dots(b1LightDots, LIGHT).dots(b1BlueDots, BLUE).dots(b1PinkDots, PINK)
  .gate(b1Gate).finish();
txt(svg, 1415, 316, 'scatter', { size: 20 });

flowPlot([1603, 67.5, 1957, 394.5], 'lin', 'lin', null, 'FSC-A', 'FSC-H')
  .solid(b2Light, LIGHT)
  .within(b2Gate).solid(b2Green, GREEN).solid(b2Grey, GREY).within(null)
  .dots(b2BlueDots, BLUE)
  .gate(b2Gate).finish();
txt(svg, 1869, 371, 'singlet f', { size: 20 });

flowPlot([1137, 484, 1491, 810], 'log', 'log', null, 'SSC-A', 'SSC-H')
  .solid(b3Blue, '#1aa0ff').solid(b3Green, GREEN).solid(b3Grey, GREY)
  .gate(b3Gate).finish();
txt(svg, 1344, 708, 'singlet s', { size: 20 });

flowPlot([1595, 493, 1950, 821], 'log', 'lin', null, 'PI YG610-A', 'FSC-A')
  .within(b4Outside).fill(b4BlueCloud, BLUE, 14).fill(b4BlueMid, BLUE, 8).solid(b4BlueCore, BLUE)
  .within(b4Inside).fill(b4Left, GREEN, 17)
  .stripes([0.47, 0.48], 70, [200, 200], GREEN)
  .fill(b4GreenCloud, GREEN, 14).fill(b4GreenCore, GREEN, 6)
  .solid(b4Grey, GREY).within(null)
  .dots(b4BlueDots, BLUE).dots(b4PinkDots, PINK)
  .gate(b4Gate).finish();
txt(svg, 1678, 556, 'Live Cells', { size: 20 });

// ---- C
panelLetter(1, 936, 'C');
const pc = flowPlot([119, 924.5, 963, 1638], 'log', 'lin', null, 'CD90 YG780-A', 'FSC-A');
pc.within(slice(0.4, cCuts[0]))
  .stripes(cStripes, 10, cStripes.map(() => 22), GREY)
  .fill(cGreyCloud, GREY, 30).fill(cGreyBlob, GREY, 9)
  .within(slice(cCuts[0], cCuts[1])).fill(cPink, PINK, 24)
  .within(slice(cCuts[1], 5.5)).fill(cGreenSparse, GREEN, 38).fill(cGreenMid, GREEN, 22).fill(cGreenCore, GREEN, 15)
  .within(null)
  .dots(cGreenDots, GREEN).dots(cGreyDots, GREY).dots(cPinkDots, PINK).finish();
gateLines(pc, cCuts, '#8a8a8a', 0.6, 1.4);
txt(svg, 273, 1034, 'CD90-', { size: 20 });
txt(svg, 816, 1034, 'CD90+', { size: 20 });

// ---- E
panelLetter(1025, 932, 'E');
const pe = flowPlot([1138, 922, 1992, 1646], 'log', 'lin', null, 'CD90 YG780-A', 'FSC-A');
pe.within(slice(0.4, eCuts[0]))
  .stripes(eStripes, 8, eStripeTops, GREY, '1.5 6').stripes(eStripes, 8, eStripes.map(() => 25), GREY)
  .fill(eGreySparse, GREY, 28).fill(eGreyMid, GREY, 17).fill(eGreyDense, GREY, 13).solid(eGreyBlob, GREY)
  .within(slice(eCuts[0], eCuts[1]))
  .fill(ePinkSparse, PINK, 24).fill(ePinkLow, PINK, 14).fill(ePinkMid, PINK, 13).fill(ePinkCore, PINK, 8)
  .within(slice(eCuts[1], 5.5))
  .fill(eGreenSparse, GREEN, 24).fill(eGreenUpper, GREEN, 22).fill(eGreenMid, GREEN, 14).fill(eGreenDense, GREEN, 10).solid(eGreenCore, GREEN)
  .within(null)
  .dots(eGreenDots, GREEN).dots(eGreyDots, GREY).dots(ePinkDots, PINK).finish();
gateLines(pe, eCuts, '#8a8a8a', 1, 1);
txt(svg, 1293, 1033, 'CD90-', { size: 20 });
txt(svg, 1843, 1033, 'CD90+', { size: 20 });

// ---- D
panelLetter(8, 1774, 'D');
const pd = flowPlot([119, 1763, 798, 2437], 'biex', 'lin', [119, 167, 274, 388, 576, 733, 798], 'CD90 YG780-A', 'FSC-A');
pd.fill(dSparse, PINK, 36).fill(dMid, PINK, 24).fill(dLeftBand, PINK, 26)
  .fill(dTopBand, PINK, 11).fill(dRightBand, PINK, 12).fill(dRightLow, PINK, 19).fill(dBottomBand, PINK, 11)
  .dots(dDots, PINK)
  .contour(dOuter, true).contour(dLobe2).contour(dLobe3).contour(dDrop).contour(dLow1).contour(dLow2).contour(dLow3)
  .contour(dRight1).contour(dRight2).finish();
gateLines(pd, dCuts, '#111', 1, 1.8);
txt(svg, 206, 1851, 'CD90-', { size: 20 });
txt(svg, 659, 1835, 'CD90+', { size: 20 });

// ---- F
panelLetter(1035, 1761, 'F');
const pf = flowPlot([1139, 1761, 1826, 2443.5], 'biex', 'lin', [1139, 1188, 1297, 1411, 1601.5, 1762, 1826], 'CD90 YG780-A', 'FSC-A');
pf.fill(fSparse, PINK, 38).fill(fMid, PINK, 27)
  .fill(fTopBand, PINK, 14).fill(fRightBand, PINK, 15).fill(fBottomBand, PINK, 13)
  .dots(fDots, PINK)
  .contour(fOuter, true).contour(fRing2).contour(fRing3).contour(fRing3Right).contour(fRing4).contour(fRing4Right)
  .contour(fRing5).contour(fRing5Right).contour(fDrop).contour(fLow).contour(fSmall).finish();
gateLines(pf, fCuts, '#111', 0.6, 1.4);
txt(svg, 1228, 1850, 'CD90-', { size: 20 });
txt(svg, 1685.5, 1833, 'CD90+', { size: 20 });

// ---- G H I
function barPanel(o) {
  const g = svg.append('g');
  const x = d3.scaleBand().domain(o.categories).range(o.xRange).paddingInner(0.375);
  const y = d3.scaleLinear().domain(o.yDomain).range(o.yRange);
  const half = x.bandwidth() / 2;
  const mid = c => x(c) + half;

  g.selectAll('rect.bar').data(o.categories).join('rect').attr('class', 'bar')
    .attr('x', d => x(d) + 2.5).attr('width', x.bandwidth() - 5)
    .attr('y', (d, i) => y(o.means[i])).attr('height', (d, i) => y(0) - y(o.means[i]))
    .attr('fill', (d, i) => o.fills[i]).attr('stroke', '#000').attr('stroke-width', 5);

  o.categories.forEach((c, i) => {
    const col = o.errColors[i];
    g.append('line').attr('x1', mid(c)).attr('x2', mid(c)).attr('y1', y(o.upper[i])).attr('y2', y(o.lower[i])).attr('stroke', col).attr('stroke-width', 2.5);
    [o.upper[i], o.lower[i]].forEach(v => g.append('line').attr('x1', mid(c) - 21).attr('x2', mid(c) + 21).attr('y1', y(v)).attr('y2', y(v)).attr('stroke', col).attr('stroke-width', 2.5));
    const vals = o.values[i], slots = o.slots[i];
    if (o.squares && o.squares[i]) {
      g.append('g').selectAll('rect').data(vals).join('rect')
        .attr('x', (d, k) => mid(c) + slots[k] * half - 7).attr('y', d => y(d) - 7).attr('width', 14).attr('height', 14).attr('fill', PINK);
    } else {
      g.append('g').selectAll('circle').data(vals).join('circle')
        .attr('cx', (d, k) => mid(c) + slots[k] * half).attr('cy', d => y(d)).attr('r', 7).attr('fill', '#000');
    }
  });

  const ax = g.append('g').attr('transform', `translate(${o.xRange[0] - o.axisGap},0)`)
    .call(d3.axisLeft(y).tickValues(o.ticks).tickFormat(o.format).tickSize(19).tickPadding(7).tickSizeOuter(0));
  ax.selectAll('line').attr('stroke', '#000').attr('stroke-width', 4.5);
  ax.select('.domain').attr('stroke', '#000').attr('stroke-width', 4.5);
  ax.selectAll('text').attr('font-size', 35).attr('font-weight', 'bold').attr('fill', '#111').style('font-family', '"Liberation Sans"');

  const bx = g.append('g').attr('transform', `translate(0,${y(0)})`)
    .call(d3.axisBottom(d3.scaleLinear([o.xRange[0] - o.axisGap - 2, o.axisEnd], [o.xRange[0] - o.axisGap - 2, o.axisEnd]))
      .tickValues(o.categories.map(mid)).tickFormat('').tickSize(14).tickSizeOuter(0));
  bx.selectAll('line').attr('stroke', '#000').attr('stroke-width', 4.5);
  bx.select('.domain').attr('stroke', '#000').attr('stroke-width', 4.5);

  const [c0, c1] = o.categories.map(mid);
  g.append('path').attr('d', `M${c0},${y(o.bracket[0])}V${y(o.bracket[1])}H${c1}V${y(o.bracket[2])}`)
    .attr('fill', 'none').attr('stroke', '#000').attr('stroke-width', 4);
  txt(g, (c0 + c1) / 2, o.starY, o.stars, { size: 72, weight: 'bold', alpha: 1, fill: '#000' });

  g.append('rect').attr('x', o.titleBox[0]).attr('y', o.titleBox[1]).attr('width', o.titleBox[2] - o.titleBox[0]).attr('height', o.titleBox[3] - o.titleBox[1]).attr('fill', '#000');
  txt(g, (o.titleBox[0] + o.titleBox[2]) / 2, (o.titleBox[1] + o.titleBox[3]) / 2, o.title, { size: 32, fill: '#fff', italic: o.titleItalic });
  txt(g, o.yTitle[0], o.yTitle[1], 'mRNA Tshb', { size: 36, weight: 'bold', rot: -90, fill: '#111' });
  o.xLabels.forEach((l, i) => txt(g, l[0], 3234, l[1], { size: 33, sx: 0.94, weight: 'bold', alpha: 1, fill: '#111', sup: l[2], supScale: 0.9 }));
}

barPanel({
  categories: gCategories, means: gMeans, upper: gUpper, lower: gLower,
  values: [gNegValues, gPosValues], slots: [gNegSlots, gPosSlots],
  fills: [BARGREY, BARGREEN], errColors: ['#000', '#000'],
  xRange: [226, 421], yDomain: [0, 2.5], yRange: [3181, 2632.6], ticks: gTicks, format: d3.format('.1f'),
  axisGap: 41, axisEnd: 462, bracket: gBracket, stars: '*', starY: 2704,
  titleBox: [189, 2559, 370, 2602], title: 'Euthyroid', yTitle: [75, 2907],
  xLabels: [[257, 'CD90.2', '\u2212'], [393, 'CD90.2', '+']]
});
barPanel({
  categories: hCategories, means: hMeans, upper: hUpper, lower: hLower,
  values: [hNegValues, hPosValues], slots: [hNegSlots, hPosSlots],
  fills: [BARGREY, BARGREEN], errColors: ['#000', '#000'],
  xRange: [805, 1000], yDomain: [0, 10], yRange: [3180.7, 2629.4], ticks: hTicks, format: d3.format('d'),
  axisGap: 42, axisEnd: 1041, bracket: hBracket, stars: '***', starY: 2676,
  titleBox: [769, 2551, 985, 2594], title: 'Hypothyroid', yTitle: [666, 2904],
  xLabels: [[840, 'CD90.2', '\u2212'], [977, 'CD90.2', '+']]
});
barPanel({
  categories: iCategories, means: iMeans, upper: iUpper, lower: iLower,
  values: [iNtValues, iT3Values], slots: [iNtSlots, iT3Slots], squares: [false, true],
  fills: [BARGREEN, BARGREEN], errColors: ['#000', PINK],
  xRange: [1371, 1566.5], yDomain: [0, 1.5], yRange: [3173, 2625], ticks: iTicks, format: d3.format('.1f'),
  axisGap: 40, axisEnd: 1608, bracket: iBracket, stars: '***', starY: 2674,
  titleBox: [1352, 2550, 1577, 2594.5], title: 'In vitro', titleItalic: true, yTitle: [1221, 2899],
  xLabels: [[1409, 'NT'], [1529, 'T3']]
});

panelLetter(8, 2591, 'G');
panelLetter(657, 2580, 'H');
panelLetter(1224, 2580, 'I');

// legend
const legendItems = ['NT', 'T3'];
svg.append('circle').attr('cx', 1650).attr('cy', 2639).attr('r', 14).attr('fill', '#000');
svg.append('rect').attr('x', 1636.5).attr('y', 2673.5).attr('width', 26.5).attr('height', 25.5).attr('fill', PINK);
legendItems.forEach((t, i) => txt(svg, 1678, 2648 + i * 50, 'CD90.2', { size: 30, weight: 'bold', anchor: 'start', alpha: 1, fill: '#111', sup: '+', tail: ' ' + t, supScale: 0.85 }));
</script>
</body>
</html>
